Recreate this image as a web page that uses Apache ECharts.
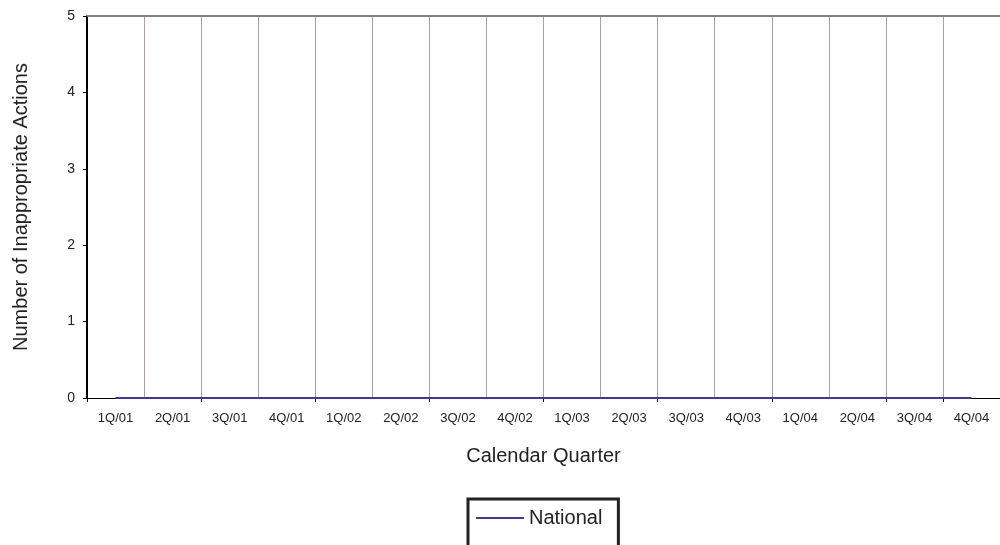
<!DOCTYPE html>
<html>
<head>
<meta charset="utf-8">
<script src="https://cdn.jsdelivr.net/npm/echarts@6/dist/echarts.min.js"></script>
<style>html,body{margin:0;padding:0;background:#fff;}#c{width:1000px;height:545px;}</style>
</head>
<body>
<div id="c"></div>
<script>
const categories = ['1Q/01','2Q/01','3Q/01','4Q/01','1Q/02','2Q/02','3Q/02','4Q/02','1Q/03','2Q/03','3Q/03','4Q/03','1Q/04','2Q/04','3Q/04','4Q/04'];
const nationalValues = [0,0,0,0,0,0,0,0,0,0,0,0,0,0,0,0];
const yTicks = { min: 0, max: 5, interval: 1 };

const font = 'Liberation Sans, Arial, sans-serif';
const chart = echarts.init(document.getElementById('c'), null, { renderer: 'canvas' });
chart.setOption({
  animation: false,
  backgroundColor: '#fff',
  grid: { left: 87, width: 917, top: 16, height: 382, containLabel: false },
  xAxis: [{
    type: 'category',
    data: categories,
    boundaryGap: true,
    name: 'Calendar Quarter',
    nameLocation: 'middle',
    nameGap: 48,
    nameTextStyle: { fontFamily: font, fontSize: 20, color: '#222' },
    axisLine: { lineStyle: { color: '#000', width: 1 } },
    axisTick: { show: true, interval: 1, length: 4, alignWithLabel: false, lineStyle: { color: '#000' } },
    axisLabel: { interval: 0, margin: 14, fontFamily: font, fontSize: 13, color: '#222' },
    splitLine: { show: true, interval: 0, lineStyle: { color: '#aaa0a0', width: 1 } }
  }, {
    type: 'category',
    data: categories,
    position: 'top',
    axisLine: { show: true, lineStyle: { color: '#808080', width: 2 } },
    axisTick: { show: false },
    axisLabel: { show: false },
    splitLine: { show: false }
  }],
  yAxis: {
    type: 'value',
    min: yTicks.min, max: yTicks.max, interval: yTicks.interval,
    name: 'Number of Inappropriate Actions',
    nameLocation: 'middle',
    nameGap: 56,
    nameTextStyle: { fontFamily: font, fontSize: 20, color: '#222' },
    axisLine: { show: true, lineStyle: { color: '#000', width: 2 } },
    axisTick: { show: true, length: 4, lineStyle: { color: '#000' } },
    axisLabel: { margin: 12, fontFamily: font, fontSize: 14, color: '#222' },
    splitLine: { show: false }
  },
  legend: {
    left: 468, top: 499,
    orient: 'vertical',
    padding: [9, 16, 40, 8],
    borderColor: '#222', borderWidth: 3,
    itemWidth: 48, itemHeight: 14,
    textStyle: { fontFamily: font, fontSize: 20, color: '#222' },
    data: [{ name: 'National', icon: 'path://M0,0L48,0L48,2L0,2Z' }]
  },
  series: [{
    name: 'National',
    type: 'line',
    data: nationalValues,
    symbol: 'none',
    lineStyle: { color: '#3e3a8c', width: 2 },
    itemStyle: { color: '#3e3a8c' }
  }]
});
</script>
</body>
</html>
